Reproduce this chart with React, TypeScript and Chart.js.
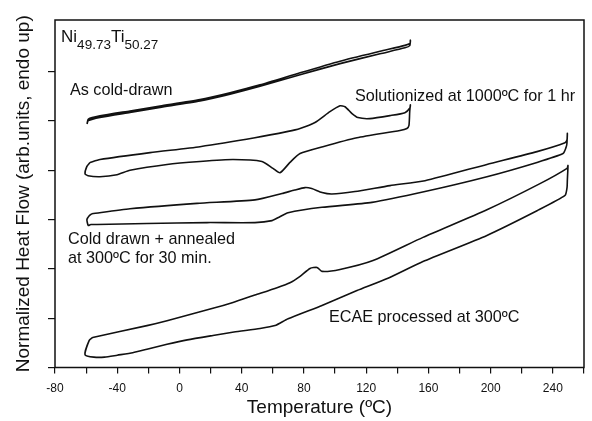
import React, { useEffect, useRef } from "react";
import { Chart, registerables } from "chart.js";

Chart.register(...registerables);

// ---- Axis ----
const X_MIN = -80;
const X_MAX = 260;
const X_STEP = 20;
const X_LABEL_STEP = 40;
const Y_MIN = 0;
const Y_MAX = 7.05;

// ---- As cold-drawn (narrow loop) ----
const coldDrawnT = [-59.4, -58.6, -51.1, -31.8, -12.5, 13.2, 32.5, 51.8, 77.5, 103.2, 128.9, 144.9, 148.2, 148.4, 148.0, 144.9, 128.9, 103.2, 77.5, 51.8, 32.5, 13.2, -12.5, -31.8, -51.1, -58.6, -59.4];
const coldDrawnHF = [4.94, 5.04, 5.105, 5.205, 5.305, 5.435, 5.575, 5.735, 5.98, 6.215, 6.415, 6.535, 6.575, 6.64, 6.53, 6.485, 6.365, 6.165, 5.94, 5.705, 5.545, 5.405, 5.275, 5.175, 5.075, 5.01, 4.94];

// ---- Solutionized at 1000ºC for 1 hr ----
const solutionizedT = [-57.5, -51.1, -18.9, 13.2, 48.5, 69.8, 77.5, 87.1, 96.7, 103.2, 106.4, 110.9, 114.7, 122.4, 135.3, 144.9, 148.2, 148.4, 148.0, 147.5, 146.2, 141.7, 114.1, 92.2, 77.5, 71.0, 64.6, 60.1, 53.0, 34.4, 13.2, -8.0, -31.8, -40.2, -51.1, -58.8, -60.7, -59.5, -57.5];
const solutionizedHF = [4.16, 4.22, 4.36, 4.48, 4.66, 4.79, 4.85, 4.97, 5.19, 5.31, 5.29, 5.15, 5.07, 5.05, 5.11, 5.17, 5.27, 5.33, 5.20, 4.91, 4.85, 4.81, 4.66, 4.48, 4.34, 4.16, 3.95, 4.04, 4.18, 4.22, 4.18, 4.12, 4.00, 3.91, 3.87, 3.89, 3.93, 4.08, 4.16];

// ---- Cold drawn + annealed at 300ºC for 30 min ----
const annealedT = [-56.2, -31.8, 11.3, 48.5, 65.9, 74.0, 80.7, 85.0, 91.6, 98.0, 112.8, 135.3, 157.8, 197.6, 229.8, 247.8, 249.1, 249.3, 249.0, 248.4, 246.5, 229.8, 197.6, 157.8, 123.7, 91.6, 69.8, 64.0, 59.5, 48.5, 17.7, -20.9, -53.0, -57.0, -58.6, -59.5, -58.0, -56.2];
const annealedHF = [3.12, 3.22, 3.33, 3.40, 3.53, 3.60, 3.65, 3.63, 3.55, 3.52, 3.57, 3.69, 3.79, 4.12, 4.38, 4.56, 4.62, 4.75, 4.54, 4.46, 4.34, 4.16, 3.87, 3.57, 3.35, 3.25, 3.14, 3.05, 2.98, 2.94, 2.94, 2.92, 2.90, 2.90, 2.88, 3.00, 3.08, 3.12];

// ---- ECAE processed at 300ºC ----
const ecaeT = [-55.8, -20.9, -8.0, 21.5, 34.4, 48.5, 62.7, 71.0, 77.5, 83.9, 88.4, 91.6, 103.2, 124.4, 156.5, 197.6, 231.7, 249.1, 249.7, 249.3, 249.1, 247.8, 229.8, 197.6, 156.5, 134.0, 114.1, 91.6, 69.8, 61.4, 51.8, 35.0, 21.5, 5.0, -8.0, -20.9, -30.0, -40.0, -48.1, -55.0, -60.7, -58.0, -55.8];
const ecaeHF = [0.61, 0.85, 0.95, 1.20, 1.32, 1.47, 1.62, 1.72, 1.85, 2.01, 2.03, 1.95, 1.99, 2.17, 2.64, 3.20, 3.73, 4.04, 4.10, 3.80, 3.65, 3.49, 3.18, 2.68, 2.15, 1.81, 1.56, 1.26, 0.99, 0.85, 0.79, 0.72, 0.65, 0.56, 0.47, 0.37, 0.30, 0.25, 0.21, 0.21, 0.26, 0.55, 0.61];

// ---- Text labels (data coordinates: left x, baseline y) ----
const labelTexts = ["As cold-drawn", "Solutionized at 1000ºC for 1 hr", "Cold drawn + annealed", "at 300ºC for 30 min.", "ECAE processed at 300ºC"];
const labelX = [-70.4, 112.8, -71.6, -71.6, 96.1];
const labelY = [5.53, 5.40, 2.50, 2.13, 0.93];
const compositionParts = ["Ni", "49.73", "Ti", "50.27"];
const compositionX = -76.1;
const compositionY = 6.61;

const FONT = "'Liberation Sans', Arial, Helvetica, sans-serif";
const INK = "#111111";

const toPoints = (t: number[], v: number[]) => t.map((x, i) => ({ x, y: v[i] }));

const textPlugin = {
  id: "textLabels",
  afterDatasetsDraw(chart: any) {
    const { ctx, chartArea, scales } = chart;
    const xs = scales.x;
    const ys = scales.y;
    ctx.save();
    // frame
    ctx.strokeStyle = INK;
    ctx.lineWidth = 1.5;
    ctx.strokeRect(chartArea.left, chartArea.top, chartArea.right - chartArea.left, chartArea.bottom - chartArea.top);
    ctx.fillStyle = INK;
    ctx.textBaseline = "alphabetic";
    ctx.textAlign = "left";
    ctx.font = `16.2px ${FONT}`;
    labelTexts.forEach((t, i) => {
      ctx.fillText(t, xs.getPixelForValue(labelX[i]), ys.getPixelForValue(labelY[i]));
    });
    // composition with subscripts
    let px = xs.getPixelForValue(compositionX);
    const py = ys.getPixelForValue(compositionY);
    compositionParts.forEach((p, i) => {
      const sub = i % 2 === 1;
      ctx.font = sub ? `13.5px ${FONT}` : `17px ${FONT}`;
      ctx.fillText(p, px, sub ? py + 7 : py);
      px += ctx.measureText(p).width;
    });
    ctx.restore();
  },
};

export default function App() {
  const ref = useRef<HTMLCanvasElement | null>(null);
  useEffect(() => {
    if (!ref.current) return;
    const mk = (t: number[], v: number[], label: string) => ({
      label,
      data: toPoints(t, v),
      showLine: true,
      borderColor: INK,
      backgroundColor: INK,
      borderWidth: 1.6,
      pointRadius: 0,
      tension: 0.2,
      fill: false,
    });
    const chart = new Chart(ref.current, {
      type: "scatter",
      data: {
        datasets: [
          mk(coldDrawnT, coldDrawnHF, "As cold-drawn"),
          mk(solutionizedT, solutionizedHF, "Solutionized"),
          mk(annealedT, annealedHF, "Annealed"),
          mk(ecaeT, ecaeHF, "ECAE"),
        ],
      },
      options: {
        responsive: false,
        animation: false,
        layout: { padding: { top: 20, right: 7.5, left: 0, bottom: 0 } },
        plugins: { legend: { display: false }, tooltip: { enabled: false } },
        scales: {
          x: {
            type: "linear",
            min: X_MIN,
            max: X_MAX,
            border: { display: false },
            grid: { drawOnChartArea: false, drawTicks: true, tickLength: 6, color: INK, lineWidth: 1.2 },
            ticks: {
              stepSize: X_STEP,
              autoSkip: false,
              maxRotation: 0,
              padding: 8,
              color: INK,
              font: { family: FONT, size: 12 },
              callback: (v: any) => (Number(v) % X_LABEL_STEP === 0 ? String(v) : ""),
            },
            title: {
              display: true,
              text: "Temperature (ºC)",
              color: INK,
              font: { family: FONT, size: 19 },
              padding: { top: 0, bottom: 1.6 },
            },
            afterFit: (s: any) => {
              s.height = 53.5;
            },
          },
          y: {
            type: "linear",
            min: Y_MIN,
            max: Y_MAX,
            border: { display: false },
            grid: { drawOnChartArea: false, drawTicks: true, tickLength: 7, color: INK, lineWidth: 1.2 },
            ticks: { stepSize: 1, callback: () => "", padding: 0 },
            afterBuildTicks: (s: any) => {
              s.ticks = s.ticks.filter((t: any) => Number.isInteger(t.value));
            },
            title: {
              display: true,
              text: "Normalized Heat Flow (arb.units, endo up)",
              color: INK,
              font: { family: FONT, size: 19 },
              padding: { top: 12, bottom: 0 },
            },
            afterFit: (s: any) => {
              s.width = 55;
            },
          },
        },
      },
      plugins: [textPlugin],
    } as any);
    return () => chart.destroy();
  }, []);
  return (
    <div style={{ position: "fixed", left: 0, top: 0, width: 592, height: 421, background: "#fff" }}>
      <canvas ref={ref} width={592} height={421} style={{ width: 592, height: 421, display: "block" }} />
    </div>
  );
}
